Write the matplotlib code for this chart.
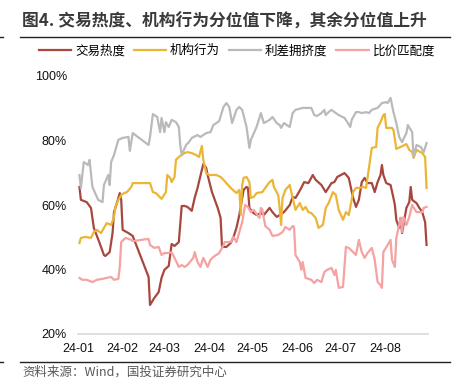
import pandas as pd
import matplotlib
matplotlib.use("Agg")
import matplotlib.pyplot as plt
import matplotlib.dates as mdates
from matplotlib.lines import Line2D
from matplotlib.ticker import FuncFormatter

plt.rcParams['font.family'] = ['Liberation Sans', 'Noto Sans CJK SC', 'DejaVu Sans']

title = '图4. 交易热度、机构行为分位值下降，其余分位值上升'
source = '资料来源：Wind，国投证券研究中心'
labels = ['交易热度', '机构行为', '利差拥挤度', '比价匹配度']
colors = ['#A8473E', '#EBB536', '#BABABA', '#F5A2A2']

# 交易热度 (%)
heat_dates = ['01-02', '01-03', '01-07', '01-10', '01-12', '01-16', '01-19', '01-20', '01-23', '01-25',
              '01-26', '01-28', '01-30', '01-31', '02-01', '02-05', '02-08', '02-19', '02-20', '02-23',
              '02-26', '02-28', '03-01', '03-04', '03-06', '03-08', '03-11', '03-13', '03-15', '03-17',
              '03-20', '03-22', '03-24', '03-27', '03-28', '03-30', '03-31', '04-03', '04-07', '04-09',
              '04-10', '04-13', '04-16', '04-18', '04-20', '04-22', '04-24', '04-25', '04-27', '04-28',
              '04-29', '05-01', '05-04', '05-07', '05-09', '05-13', '05-15', '05-18', '05-20', '05-23',
              '05-27', '05-29', '05-31', '06-02', '06-04', '06-06', '06-09', '06-12', '06-14', '06-18',
              '06-21', '06-25', '06-27', '06-29', '07-04', '07-07', '07-10', '07-12', '07-14', '07-16',
              '07-18', '07-20', '07-23', '07-25', '07-27', '07-29', '07-30', '07-31', '08-02', '08-05',
              '08-07', '08-08', '08-09', '08-11', '08-12', '08-13', '08-16', '08-18', '08-19', '08-20',
              '08-23', '08-25', '08-27', '08-29', '08-30']
heat_vals = [65.6, 61.6, 60.9, 59.1, 52.9, 48.2, 44.5, 44.2, 45.4, 51.3,
             57.8, 60.6, 63.7, 61.6, 52.3, 51.3, 50.4, 37.7, 29.0, 31.2,
             33.0, 37.4, 39.9, 41.1, 47.9, 47.3, 48.5, 59.7, 59.7, 59.4,
             58.2, 62.2, 65.3, 70.9, 72.7, 71.5, 69.3, 64.0, 59.1, 56.0,
             47.0, 47.0, 48.2, 50.1, 52.9, 56.9, 62.2, 64.7, 65.6, 65.3,
             59.1, 57.8, 56.9, 57.5, 56.9, 59.1, 57.8, 56.3, 56.9, 57.8,
             60.0, 62.5, 62.2, 63.7, 65.3, 67.1, 66.8, 69.3, 67.8, 66.2,
             64.0, 66.8, 67.1, 68.7, 69.9, 68.4, 62.2, 59.4, 61.6, 67.1,
             68.4, 66.8, 66.8, 64.0, 67.1, 69.3, 72.4, 69.3, 66.8, 66.2,
             62.2, 60.0, 55.4, 52.9, 56.0, 51.3, 59.1, 60.9, 65.6, 61.6,
             60.6, 59.1, 57.8, 54.7, 47.6]

# 机构行为 (%)
inst_dates = ['01-02', '01-03', '01-06', '01-10', '01-12', '01-14', '01-17', '01-19', '01-21', '01-24',
              '01-26', '01-27', '01-29', '01-31', '02-02', '02-04', '02-07', '02-08', '02-19', '02-20',
              '02-22', '02-24', '02-26', '02-28', '03-02', '03-03', '03-05', '03-06', '03-08', '03-09',
              '03-11', '03-15', '03-17', '03-20', '03-23', '03-25', '03-27', '03-28', '03-30', '04-01',
              '04-03', '04-06', '04-09', '04-11', '04-16', '04-20', '04-22', '04-23', '04-24', '04-25',
              '04-27', '04-29', '04-30', '05-02', '05-04', '05-08', '05-10', '05-13', '05-15', '05-16',
              '05-19', '05-20', '05-21', '05-22', '05-24', '05-27', '05-29', '05-31', '06-03', '06-05',
              '06-07', '06-09', '06-11', '06-14', '06-16', '06-19', '06-21', '06-23', '06-26', '06-28',
              '06-30', '07-03', '07-05', '07-07', '07-10', '07-12', '07-14', '07-17', '07-19', '07-21',
              '07-23', '07-26', '07-27', '07-29', '07-31', '08-01', '08-02', '08-06', '08-07', '08-09',
              '08-12', '08-16', '08-18', '08-20', '08-21', '08-23', '08-27', '08-29', '08-30']
inst_vals = [48.2, 49.8, 50.1, 49.8, 51.6, 52.3, 51.3, 52.9, 54.4, 53.8,
             56.3, 59.4, 61.6, 63.1, 63.7, 64.0, 65.6, 66.8, 66.8, 66.8,
             64.0, 63.7, 62.8, 61.9, 64.0, 69.3, 68.4, 67.1, 68.7, 74.0,
             74.9, 76.1, 76.4, 76.1, 75.5, 74.9, 78.3, 74.0, 69.9, 69.3,
             69.3, 69.3, 68.7, 67.8, 65.3, 63.7, 64.7, 56.9, 66.2, 68.4,
             68.7, 67.1, 62.2, 62.5, 63.7, 64.0, 65.3, 67.1, 67.8, 65.6,
             63.1, 59.1, 53.8, 62.2, 64.7, 66.2, 62.2, 58.5, 60.6, 58.5,
             59.4, 57.8, 57.5, 56.0, 52.9, 53.8, 59.1, 60.6, 64.0, 63.1,
             58.5, 55.4, 57.8, 56.9, 64.0, 65.3, 65.3, 65.6, 65.3, 71.5,
             77.7, 78.0, 83.9, 85.7, 87.9, 88.2, 83.9, 83.9, 83.3, 77.4,
             78.0, 78.9, 77.1, 76.4, 74.6, 77.1, 76.1, 74.9, 65.3]

# 利差拥挤度 (%)
spread_dates = ['01-02', '01-03', '01-05', '01-08', '01-09', '01-11', '01-15', '01-18', '01-19', '01-22',
                '01-23', '01-24', '01-26', '01-29', '02-01', '02-05', '02-06', '02-08', '02-19', '02-20',
                '02-22', '02-25', '02-27', '02-28', '03-01', '03-02', '03-04', '03-06', '03-09', '03-11',
                '03-12', '03-13', '03-16', '03-18', '03-20', '03-24', '03-26', '03-30', '04-02', '04-04',
                '04-08', '04-11', '04-13', '04-15', '04-17', '04-20', '04-22', '04-24', '04-27', '04-29',
                '04-30', '05-04', '05-07', '05-09', '05-13', '05-15', '05-18', '05-20', '05-21', '05-23',
                '05-27', '05-29', '05-31', '06-05', '06-11', '06-13', '06-15', '06-18', '06-20', '06-21',
                '06-23', '06-25', '06-28', '06-30', '07-04', '07-06', '07-08', '07-09', '07-12', '07-14',
                '07-16', '07-19', '07-21', '07-23', '07-27', '07-30', '08-02', '08-03', '08-05', '08-07',
                '08-09', '08-11', '08-13', '08-16', '08-17', '08-20', '08-21', '08-23', '08-26', '08-28',
                '08-30']
spread_vals = [69.3, 65.3, 73.3, 72.4, 74.0, 65.6, 61.6, 60.9, 66.2, 69.3,
               66.2, 73.3, 75.5, 80.2, 80.8, 81.1, 76.8, 82.3, 78.6, 81.1,
               88.2, 87.3, 82.6, 87.0, 82.6, 85.7, 84.2, 86.4, 85.7, 84.2,
               78.6, 75.5, 78.6, 79.5, 80.8, 81.7, 81.1, 82.3, 82.6, 84.8,
               86.0, 90.4, 91.6, 90.4, 85.4, 89.5, 90.4, 89.5, 84.2, 77.7,
               80.2, 84.2, 88.5, 85.4, 86.4, 87.3, 85.4, 84.8, 83.9, 85.4,
               84.2, 88.5, 89.5, 90.1, 90.1, 87.9, 87.6, 88.5, 89.5, 87.9,
               88.8, 89.5, 88.5, 87.9, 87.0, 85.7, 84.2, 86.4, 88.8, 88.8,
               88.5, 88.8, 88.5, 89.5, 90.1, 91.6, 91.9, 91.6, 93.2, 88.8,
               85.4, 81.1, 79.5, 82.3, 84.8, 82.6, 74.8, 78.6, 78.0, 76.4,
               79.2]

# 比价匹配度 (%)
ratio_dates = ['01-02', '01-04', '01-07', '01-11', '01-14', '01-18', '01-21', '01-24', '01-26', '01-29',
               '01-30', '01-31', '02-03', '02-07', '02-08', '02-19', '02-20', '02-23', '02-26', '02-28',
               '03-01', '03-04', '03-06', '03-08', '03-11', '03-13', '03-15', '03-17', '03-21', '03-22',
               '03-24', '03-26', '03-28', '03-31', '04-02', '04-04', '04-08', '04-10', '04-12', '04-16',
               '04-18', '04-20', '04-22', '04-24', '04-26', '04-28', '04-30', '05-02', '05-04', '05-06',
               '05-07', '05-08', '05-10', '05-13', '05-15', '05-19', '05-22', '05-24', '05-27', '05-29',
               '05-30', '05-31', '06-03', '06-04', '06-05', '06-07', '06-11', '06-13', '06-15', '06-18',
               '06-20', '06-22', '06-25', '06-27', '06-28', '06-30', '07-03', '07-05', '07-07', '07-10',
               '07-12', '07-14', '07-16', '07-18', '07-20', '07-23', '07-25', '07-27', '07-29', '07-30',
               '07-31', '08-03', '08-05', '08-06', '08-08', '08-09', '08-12', '08-13', '08-14', '08-16',
               '08-18', '08-20', '08-23', '08-25', '08-27', '08-28', '08-30']
ratio_vals = [37.4, 36.8, 36.8, 36.1, 36.8, 37.1, 37.4, 37.7, 36.8, 37.1,
              40.8, 48.5, 49.8, 49.2, 48.8, 49.5, 47.6, 46.7, 47.0, 44.5,
              45.1, 45.1, 45.4, 43.6, 40.8, 41.4, 40.8, 41.4, 43.6, 45.4,
              42.3, 40.8, 43.6, 40.8, 43.0, 43.9, 45.1, 46.7, 48.5, 48.5,
              50.1, 48.5, 51.6, 54.7, 60.0, 59.4, 57.8, 58.5, 57.2, 56.0,
              59.1, 58.5, 53.5, 52.3, 50.4, 50.7, 51.6, 53.2, 52.3, 53.5,
              53.2, 44.5, 42.3, 39.9, 42.3, 37.4, 36.8, 35.8, 36.8, 36.1,
              39.2, 39.9, 40.5, 38.3, 39.9, 34.3, 34.6, 47.0, 46.7, 45.4,
              44.5, 49.2, 45.4, 43.6, 45.1, 46.7, 43.0, 36.1, 35.2, 34.3,
              45.4, 47.6, 49.2, 43.0, 40.8, 49.8, 56.0, 51.6, 56.3, 53.8,
              56.3, 60.0, 57.8, 57.8, 57.8, 59.1, 59.4]

yticks = [20, 40, 60, 80, 100]

W, H = 461, 385
fig = plt.figure(figsize=(W / 100, H / 100), dpi=100)
ax = fig.add_axes([78 / W, 1 - 334 / H, 350 / W, 258 / H])

series = [(heat_dates, heat_vals), (inst_dates, inst_vals),
          (spread_dates, spread_vals), (ratio_dates, ratio_vals)]
handles = []
for (d, v), lab, c in zip(series, labels, colors):
    x = pd.to_datetime(['2024-' + s for s in d])
    h, = ax.plot(x, v, color=c, lw=1.6, label=lab, solid_joinstyle='round')
    handles.append(h)

ax.set_xlim(pd.Timestamp('2024-01-01'), pd.Timestamp('2024-08-31'))
ax.set_ylim(20, 100)
ax.set_yticks(yticks)
ax.yaxis.set_major_formatter(FuncFormatter(lambda v, p: f'{v:.0f}%'))
ax.xaxis.set_major_locator(mdates.MonthLocator())
ax.xaxis.set_major_formatter(mdates.DateFormatter('%y-%m'))
ax.tick_params(axis='both', length=0, labelsize=9, colors='#111111')
ax.tick_params(axis='y', pad=8)
ax.tick_params(axis='x', pad=6.5)
for s in ['top', 'right', 'left']:
    ax.spines[s].set_visible(False)
ax.spines['bottom'].set_color('#D9D9D9')
ax.spines['bottom'].set_linewidth(1.2)

fig.legend(handles=handles, labels=labels, loc='center', bbox_to_anchor=(237 / W, 1 - 51 / H),
           ncol=4, frameon=False, fontsize=9, handlelength=2.6, handletextpad=0.3,
           columnspacing=0.7, borderaxespad=0, borderpad=0)

fig.text(22 / W, 1 - 22 / H, title, fontsize=12.1, fontweight='bold', color='#3a3a3a',
         ha='left', va='center', family=['Noto Sans CJK SC', 'DejaVu Sans'])
fig.add_artist(Line2D([20 / W, 450 / W], [1 - 37 / H] * 2, color='#222222', lw=1))
fig.add_artist(Line2D([0, 3 / W], [1 - 37 / H] * 2, color='#222222', lw=1))
fig.add_artist(Line2D([20 / W, 450 / W], [1 - 362 / H] * 2, color='#222222', lw=1))
fig.add_artist(Line2D([0, 3 / W], [1 - 362 / H] * 2, color='#222222', lw=1))
fig.text(22 / W, 1 - 372 / H, source, fontsize=9, style='italic', color='#595959',
         ha='left', va='center', family=['Noto Sans CJK SC', 'DejaVu Sans'])

fig.savefig('out.png', dpi=100)
